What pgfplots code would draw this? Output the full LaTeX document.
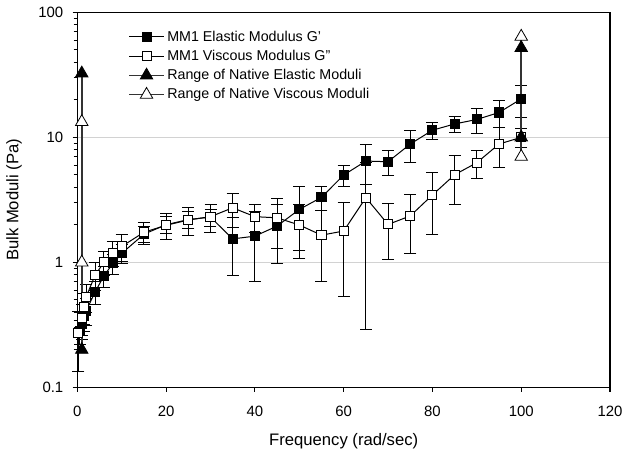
\documentclass[border=0pt]{standalone}
\usepackage{fontspec}
\setmainfont{Liberation Sans}
\usepackage{pgfplots}
\pgfplotsset{compat=1.18}

% G' (elastic) and G'' (viscous): freq, value, error
\pgfplotstableread{
f    v     e
0.5  0.28  0.06
1    0.32  0.08
1.5  0.37  0.09
2    0.41  0.10
4    0.58  0.12
6    0.78  0.15
8    0.98  0.18
10   1.18  0.20
15   1.68  0.25
20   2.00  0.31
25   2.20  0.35
30   2.30  0.36
35   1.54  0.75
40   1.62  0.92
45   1.95  0.97
50   2.65  1.40
55   3.31  0.72
60   4.99  0.93
65   6.46  2.30
70   6.38  1.43
75   8.84  2.60
80   11.4  1.80
85   12.8  1.80
90   13.9  3.20
95   15.8  3.80
100  20.3  5.80
}\elastic
\pgfplotstableread{
f    v     e
0.25 0.27  0.135
1    0.36  0.10
1.5  0.44  0.12
2    0.53  0.13
4    0.79  0.20
6    1.00  0.22
8    1.19  0.27
10   1.34  0.32
15   1.74  0.35
20   1.98  0.47
25   2.18  0.55
30   2.32  0.60
35   2.73  0.83
40   2.32  0.60
45   2.27  0.98
50   1.99  0.92
55   1.65  0.95
60   1.78  1.25
65   3.29  3.00
70   2.01  0.95
75   2.35  1.17
80   3.46  1.80
85   5.02  2.10
90   6.27  1.60
95   8.84  3.10
100  10.0  1.70
}\viscous

\pgfplotsset{
  errstyle/.style={error bars/.cd, y dir=both, y explicit,
    error bar style={line width=0.75pt, black},
    error mark options={rotate=90, line width=0.75pt, mark size=4.5pt, black}},
  wl/.style={legend image code/.code={
    \draw[##1, mark repeat=2, mark phase=2] plot coordinates {(0pt,0pt) (13pt,0pt) (26pt,0pt)};}},
}

\begin{document}
\begin{tikzpicture}
\begin{axis}[
  scale only axis,
  width=399.5pt, height=281.25pt,
  ymode=log,
  xmin=0, xmax=120, ymin=0.1, ymax=100,
  xtick={0,20,...,120},
  ytick={0.1,1,10,100},
  yticklabels={0.1,1,10,100},
  minor ytick={},
  tick align=outside,
  major tick length=3.5pt,
  xtick pos=bottom, ytick pos=left,
  ymajorgrids, grid style={gray!35, line width=0.6pt},
  axis line style={line width=0.8pt},
  tick style={black, line width=0.8pt},
  ticklabel style={font=\fontsize{11.2}{13}\selectfont},
  xticklabel style={yshift=-7pt},
  yticklabel style={xshift=-3.5pt},
  /pgf/number format/assume math mode=true,
  xlabel={Frequency (rad/sec)},
  ylabel={Bulk Moduli (Pa)},
  label style={font=\fontsize{12.5}{14}\selectfont},
  xlabel style={at={(axis description cs:0.5,-0.1433)}, anchor=center},
  ylabel style={at={(axis description cs:-0.119,0.5)}, anchor=center},
  legend style={draw=none, fill=none, at={(axis description cs:0.088,0.966)}, anchor=north west,
    font=\fontsize{10.7}{12}\selectfont, row sep=1.2pt},
  legend cell align=left,
  unbounded coords=jump,
  clip=false,
]
\addlegendimage{black, line width=0.75pt, mark=square*, mark size=3.4pt,
  mark options={fill=black, solid}, wl}
\addlegendentry{MM1 Elastic Modulus G'}
\addlegendimage{black, line width=0.75pt, mark=square*, mark size=3.4pt,
  mark options={fill=white, solid}, wl}
\addlegendentry{MM1 Viscous Modulus G"}
\addlegendimage{black!80, line width=1.1pt, mark=triangle*, mark size=5.4pt,
  mark options={fill=black, draw=black, line width=0.6pt}, wl}
\addlegendentry{Range of Native Elastic Moduli}
\addlegendimage{black!80, line width=1.1pt, mark=triangle*, mark size=5.4pt,
  mark options={fill=white, draw=black, line width=0.6pt}, wl}
\addlegendentry{Range of Native Viscous Moduli}

\addplot[forget plot, black, line width=0.75pt, mark=square*, mark size=3.4pt,
  mark options={fill=black, solid}, errstyle]
  table[x=f, y=v, y error=e] {\elastic};
\addplot[forget plot, black, line width=0.75pt, mark=square*, mark size=3.4pt,
  mark options={fill=white, solid}, errstyle]
  table[x=f, y=v, y error=e] {\viscous};
\addplot[forget plot, black!80, line width=1.1pt, mark=triangle*, mark size=5.4pt,
  mark options={fill=black, draw=black, line width=0.6pt}]
  coordinates {(1,0.2) (1,32.5) (nan,nan) (100,10) (100,52)};
\addplot[forget plot, black!80, line width=1.1pt, mark=triangle*, mark size=5.4pt,
  mark options={fill=white, draw=black, line width=0.6pt}]
  coordinates {(1,1.0) (1,13.3) (nan,nan) (100,7) (100,64)};
\end{axis}
\path[use as bounding box] (-58pt,-55.3pt) rectangle (416pt,290.5pt);
\end{tikzpicture}
\end{document}
